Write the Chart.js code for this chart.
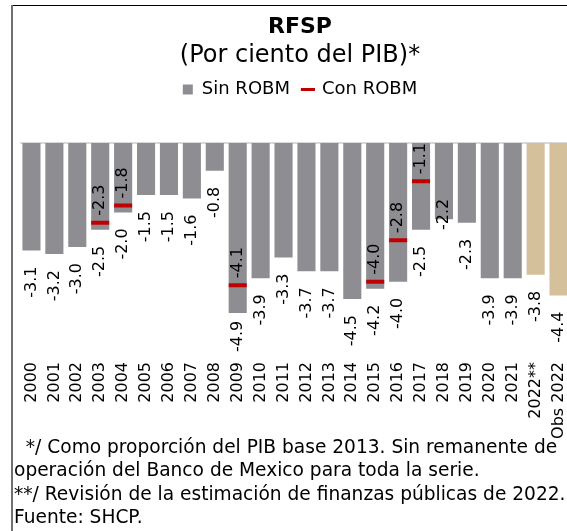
<!DOCTYPE html>
<html>
<head>
<meta charset="utf-8">
<script src="https://cdn.jsdelivr.net/npm/chart.js@4/dist/chart.umd.min.js"></script>
<style>
  html, body { margin: 0; padding: 0; background: #fff; overflow: hidden; }
  body { width: 567px; height: 531px; position: relative; font-family: "DejaVu Sans", sans-serif; }
  #wrap { position: absolute; left: 0; top: 0; width: 600px; height: 440px; }
  #frameTop { position: absolute; left: 11px; top: 5px; width: 560px; height: 1px; background: #000; }
  #frameLeft { position: absolute; left: 11px; top: 5px; width: 2px; height: 530px; background: #707070; }
  #notes { position: absolute; left: 14px; top: 435px; font-size: 18.6px; line-height: 23.4px; color: #000; white-space: pre; }
</style>
</head>
<body>
<div id="wrap"><canvas id="chart" width="600" height="440"></canvas></div>
<div id="frameTop"></div>
<div id="frameLeft"></div>
<div id="notes">  */ Como proporción del PIB base 2013. Sin remanente de
operación del Banco de Mexico para toda la serie.
**/ Revisión de la estimación de finanzas públicas de 2022.
Fuente: SHCP.</div>
<script>
// data
const years = ['2000', '2001', '2002', '2003', '2004', '2005', '2006', '2007', '2008', '2009',
  '2010', '2011', '2012', '2013', '2014', '2015', '2016', '2017', '2018', '2019',
  '2020', '2021', '2022**', 'Obs 2022'];
const sinRobm = [-3.1, -3.2, -3.0, -2.5, -2.0, -1.5, -1.5, -1.6, -0.8, -4.9,
  -3.9, -3.3, -3.7, -3.7, -4.5, -4.2, -4.0, -2.5, -2.2, -2.3,
  -3.9, -3.9, -3.8, -4.4];
const conRobm = [null, null, null, -2.3, -1.8, null, null, null, null, -4.1,
  null, null, null, null, null, -4.0, -2.8, -1.1, null, null,
  null, null, null, null];
const estimates = ['2022**', 'Obs 2022'];   // drawn in tan
const labelOnBarEnd = ['2018'];             // label sits across the bar end

const gray = '#8e8d92';
const tan = '#d4c09b';
const red = '#c00000';
const font = '"DejaVu Sans", sans-serif';

const barColors = years.map(y => estimates.includes(y) ? tan : gray);

// light zero line across the plot
const zeroLine = {
  id: 'zeroLine',
  beforeDatasetsDraw(chart) {
    const {ctx, chartArea} = chart;
    const y0 = chart.scales.y.getPixelForValue(0);
    ctx.save();
    ctx.strokeStyle = '#d9d9d9';
    ctx.lineWidth = 2;
    ctx.beginPath();
    ctx.moveTo(chartArea.left, y0);
    ctx.lineTo(chartArea.right, y0);
    ctx.stroke();
    ctx.restore();
  }
};

// rotated value labels
const valueLabels = {
  id: 'valueLabels',
  afterDatasetsDraw(chart) {
    const {ctx, chartArea} = chart;
    ctx.save();
    ctx.font = '16px ' + font;
    ctx.fillStyle = '#000';
    ctx.textBaseline = 'middle';
    const limit = chartArea.bottom - 6;

    chart.getDatasetMeta(0).data.forEach((bar, i) => {
      const v = sinRobm[i];
      if (v === null) return;
      const txt = v.toFixed(1);
      const w = ctx.measureText(txt).width;
      ctx.save();
      if (labelOnBarEnd.includes(years[i])) {
        ctx.translate(bar.x, bar.y - 5);
        ctx.rotate(-Math.PI / 2);
        ctx.textAlign = 'center';
      } else {
        let top = bar.y + 16;
        if (top + w > limit) top = limit - w;
        ctx.translate(bar.x, top);
        ctx.rotate(-Math.PI / 2);
        ctx.textAlign = 'right';
      }
      ctx.fillText(txt, 0, 0);
      ctx.restore();
    });

    chart.getDatasetMeta(1).data.forEach((pt, i) => {
      const v = conRobm[i];
      if (v === null) return;
      ctx.save();
      ctx.translate(pt.x, pt.y - 7);
      ctx.rotate(-Math.PI / 2);
      ctx.textAlign = 'left';
      ctx.fillText(v.toFixed(1), 0, 0);
      ctx.restore();
    });
    ctx.restore();
  }
};

new Chart(document.getElementById('chart'), {
  type: 'bar',
  data: {
    labels: years,
    datasets: [{
      label: 'Sin ROBM',
      data: sinRobm,
      backgroundColor: barColors,
      barPercentage: 0.79,
      categoryPercentage: 1,
      order: 1
    }, {
      type: 'line',
      label: 'Con ROBM',
      data: conRobm,
      showLine: false,
      pointStyle: 'line',
      pointRadius: 9,
      pointHoverRadius: 9,
      pointBorderWidth: 4,
      pointBorderColor: red,
      borderColor: red,
      order: 0
    }]
  },
  options: {
    responsive: false,
    animation: false,
    events: [],
    layout: { padding: 0 },
    plugins: {
      title: {
        display: true,
        text: 'RFSP',
        color: '#000',
        font: { family: font, size: 22, weight: 'bold', lineHeight: 1.2 },
        padding: { top: 14, bottom: 0 }
      },
      subtitle: {
        display: true,
        text: '(Por ciento del PIB)*',
        color: '#000',
        font: { family: font, size: 24, lineHeight: 1.0 },
        padding: { top: 3, bottom: 0 }
      },
      legend: {
        display: true,
        labels: {
          usePointStyle: true,
          boxWidth: 10,
          boxHeight: 10,
          padding: 13,
          color: '#000',
          font: { family: font, size: 18 },
          generateLabels: (chart) => [
            { text: 'Sin ROBM', fillStyle: gray, strokeStyle: gray, lineWidth: 0,
              pointStyle: 'rect', datasetIndex: 0, hidden: false, fontColor: '#000' },
            { text: 'Con ROBM', fillStyle: red, strokeStyle: red, lineWidth: 3,
              pointStyle: 'line', datasetIndex: 1, hidden: false, fontColor: '#000' }
          ]
        }
      },
      tooltip: { enabled: false }
    },
    scales: {
      x: {
        grid: { display: false },
        border: { display: false },
        ticks: {
          color: '#000',
          font: { family: font, size: 16 },
          minRotation: 90,
          maxRotation: 90,
          autoSkip: false,
          padding: -4
        },
        afterFit: s => { s.height = 82; }
      },
      y: {
        min: -6.2,
        max: 1,
        grid: { display: false },
        border: { display: false },
        ticks: { display: false },
        afterFit: s => { s.width = 20; }
      },
      yPad: {
        type: 'linear',
        position: 'right',
        grid: { display: false },
        border: { display: false },
        ticks: { display: false },
        afterFit: s => { s.width = 30; }
      }
    }
  },
  plugins: [zeroLine, valueLabels]
});
</script>
</body>
</html>
